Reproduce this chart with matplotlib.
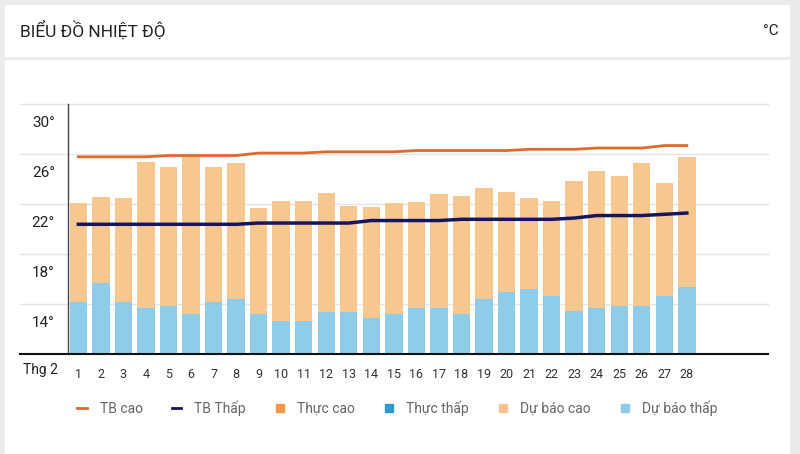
import matplotlib.pyplot as plt
from matplotlib.lines import Line2D
from matplotlib.patches import Rectangle

plt.rcParams['font.family'] = ['Roboto', 'DejaVu Sans']

# Data
days = list(range(1, 29))
day_labels = [str(d) for d in days]
du_bao_cao = [22.1, 22.6, 22.5, 25.4, 25.0, 25.8, 25.0, 25.3, 21.7, 22.3,
              22.3, 22.9, 21.9, 21.8, 22.1, 22.2, 22.8, 22.7, 23.3, 23.0,
              22.5, 22.3, 23.9, 24.7, 24.3, 25.3, 23.7, 25.8]
du_bao_thap = [14.2, 15.7, 14.2, 13.7, 13.9, 13.2, 14.2, 14.4, 13.2, 12.7,
               12.7, 13.4, 13.4, 12.9, 13.2, 13.7, 13.7, 13.2, 14.4, 15.0,
               15.2, 14.7, 13.5, 13.7, 13.9, 13.9, 14.7, 15.4]
tb_cao = [25.8, 25.8, 25.8, 25.8, 25.9, 25.9, 25.9, 25.9, 26.1, 26.1,
          26.1, 26.2, 26.2, 26.2, 26.2, 26.3, 26.3, 26.3, 26.3, 26.3,
          26.4, 26.4, 26.4, 26.5, 26.5, 26.5, 26.7, 26.7]
tb_thap = [20.4, 20.4, 20.4, 20.4, 20.4, 20.4, 20.4, 20.4, 20.5, 20.5,
           20.5, 20.5, 20.5, 20.7, 20.7, 20.7, 20.7, 20.8, 20.8, 20.8,
           20.8, 20.8, 20.9, 21.1, 21.1, 21.1, 21.2, 21.3]
y_ticks = [30, 26, 22, 18, 14]
base = 10

c_cao = "#F8C68F"
c_thap = "#8FCCEA"

fig = plt.figure(figsize=(8, 4.54), dpi=100)
fig.patch.set_facecolor("#ebebeb")
# white panels
fig.patches.append(Rectangle((5/800, 1 - 57/454), 785/800, 52/454, transform=fig.transFigure,
                             facecolor="white", edgecolor="none", zorder=-2))
fig.patches.append(Rectangle((5/800, 0), 785/800, 1 - 60/454, transform=fig.transFigure,
                             facecolor="white", edgecolor="none", zorder=-2))

fig.text(20/800, 1 - 30/454, "BIỂU ĐỒ NHIỆT ĐỘ", fontsize=12.5, color="#222222", va="center", ha="left")
fig.text(779/800, 1 - 31/454, "°C", fontsize=11, color="#222222", va="center", ha="right")

ax = fig.add_axes([68/800, 1 - 354.3/454, 700/800, 250/454])
ax.set_facecolor("none")

ax.bar(days, [l - base for l in du_bao_thap], bottom=base, width=0.77, color=c_thap, zorder=2)
ax.bar(days, [h - l for h, l in zip(du_bao_cao, du_bao_thap)], bottom=du_bao_thap,
       width=0.77, color=c_cao, zorder=2)
ax.plot(days, tb_cao, color="#E0692F", linewidth=2, zorder=4)
ax.plot(days, tb_thap, color="#16165E", linewidth=2.5, zorder=4)

ax.set_xlim(0.543, 31.6)
ax.set_ylim(base, 30)

# grid lines reaching past the y axis
for v in y_ticks:
    ax.plot([-48/700, 1], [v, v], transform=ax.get_yaxis_transform(), color="#e4e4e4",
            linewidth=1, clip_on=False, zorder=1)
    ax.text(-13/700, v - 1.52, f"{v}°", transform=ax.get_yaxis_transform(), ha="right",
            va="center", fontsize=11, color="#222222")
ax.plot([-48/700, 1], [base, base], transform=ax.get_yaxis_transform(), color="#111111",
        linewidth=1.5, clip_on=False, zorder=5)

for s in ["top", "right", "bottom"]:
    ax.spines[s].set_visible(False)
ax.spines["left"].set_color("#444444")
ax.spines["left"].set_linewidth(1)

ax.set_yticks([])
ax.set_xticks(days)
ax.set_xticklabels(day_labels, fontsize=9, color="#333333")
ax.tick_params(axis="x", length=0, pad=10)
ax.text(-28/700, -16/250, "Thg 2", transform=ax.transAxes, ha="center", va="center",
        fontsize=10, color="#222222")

handles = [
    Line2D([], [], color="#E0692F", linewidth=2),
    Line2D([], [], color="#16165E", linewidth=2),
    Line2D([], [], color="#F39A48", marker="s", linestyle="none", markersize=6),
    Line2D([], [], color="#2E9BD0", marker="s", linestyle="none", markersize=6),
    Line2D([], [], color="#F9C28C", marker="s", linestyle="none", markersize=6),
    Line2D([], [], color="#8DCBEA", marker="s", linestyle="none", markersize=6),
]
labels = ["TB cao", "TB Thấp", "Thực cao", "Thực thấp", "Dự báo cao", "Dự báo thấp"]
fig.legend(handles, labels, loc="center", bbox_to_anchor=(0.497, 1 - 408/454), ncol=6,
           frameon=False, fontsize=10, handlelength=0.7, handletextpad=0.9,
           columnspacing=2.1, labelcolor="#666666")

fig.savefig("out.png", dpi=100, facecolor=fig.get_facecolor())
